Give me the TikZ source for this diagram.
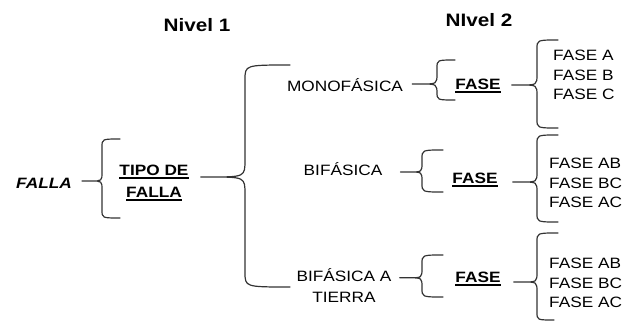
\documentclass[tikz,border=0pt]{standalone}
\usepackage{fontspec}
\setmainfont{Liberation Sans}[FakeStretch=1.15]
\usetikzlibrary{calc,positioning}

% thick underline for the bold labels
\newcommand{\undl}[1]{\setbox0\hbox{#1}\rlap{\rule[-2.6pt]{\wd0}{1.2pt}}\box0}

% curly brace: start (tail), vertical line x, top end, bottom end
\newcommand{\fbrace}[4]{%
  \draw[brc] let \p1=#1, \p2=#2, \p3=#3, \p4=#4,
    \n1={\x2-\x1-9}, \n2={0.35*\n1+5}, \n3={0.25*(\x3-\x2)+3.5}, \n4={0.25*(\x4-\x2)+3.5} in
    (\p1) -- ({\x1+9},\y1) .. controls (\x2,\y1) .. (\x2,{\y1+\n2}) -- (\x2,{\y3-\n3})
      .. controls (\x2,\y3) .. (\p3)
    ({\x1+9},\y1) .. controls (\x2,\y1) .. (\x2,{\y1-\n2}) -- (\x2,{\y4+\n4})
      .. controls (\x2,\y4) .. (\p4);}

\begin{document}
\begin{tikzpicture}[x=1pt, y=1pt,
  brc/.style={draw=black!80, line width=1.2pt, line cap=round},
  lbl/.style={font=\fontsize{15}{19.5}\selectfont, inner sep=0pt, align=left},
  one/.style={lbl, text height=10.7pt, text depth=0pt},
  head/.style={font=\fontsize{18}{22}\selectfont\bfseries, inner sep=0pt},
  key/.style={font=\fontsize{15}{22}\selectfont\bfseries, inner sep=0pt, align=center}]
  \useasboundingbox (0,0) rectangle (627,322);

  % levels
  \node[head] (lvl1) at (197,297) {Nivel 1};
  \node[head] (lvl2) at (479,301.5) {NIvel 2};

  % first level
  \node[one, font=\fontsize{15}{19.5}\selectfont\bfseries\itshape] (falla) at (44,139) {FALLA};
  \node[key] (tipo) at (154,139) {\undl{TIPO DE}\\\undl{FALLA}};

  % second level
  \node[one] (mono) at (345,236) {MONOFÁSICA};
  \node[one] (bif) at (343,152) {BIFÁSICA};
  \node[lbl, align=center, font=\fontsize{15}{21}\selectfont] (bat) at (344,37) {BIFÁSICA A\\TIERRA};

  \node[key] (fase1) at (478,236) {\undl{FASE}};
  \node[key] (fase2) at (475,142) {\undl{FASE}};
  \node[key] (fase3) at (478,43) {\undl{FASE}};

  \node[lbl, anchor=west] (list1) at (553,247) {FASE A\\FASE B\\FASE C};
  \node[lbl, anchor=west] (list2) at (549,139) {FASE AB\\FASE BC\\FASE AC};
  \node[lbl, anchor=west] (list3) at (549,39) {FASE AB\\FASE BC\\FASE AC};

  % brace ends
  \coordinate (t1) at (120,183); \coordinate (b1) at (120,104);
  \coordinate (t2) at (290,257); \coordinate (b2) at (290,35);
  \coordinate (t3) at (455,262); \coordinate (b3) at (455,222);
  \coordinate (t4) at (558,282); \coordinate (b4) at (558,194);
  \coordinate (t5) at (443,172); \coordinate (b5) at (443,130);
  \coordinate (t6) at (558,187); \coordinate (b6) at (558,100);
  \coordinate (t7) at (443,67);  \coordinate (b7) at (443,25);
  \coordinate (t8) at (558,89);  \coordinate (b8) at (554,2);

  % braces
  \fbrace{($(falla.east)+(10,2)$)}{(102,0)}{(t1)}{(b1)}
  \fbrace{($(tipo.east)+(12,6)$)}{(245,0)}{(t2)}{(b2)}
  \fbrace{($(mono.east)+(9,2)$)}{(437,0)}{(t3)}{(b3)}
  \fbrace{($(fase1.east)+(11,1)$)}{(537,0)}{(t4)}{(b4)}
  \fbrace{($(bif.east)+(18,-2)$)}{(422,0)}{(t5)}{(b5)}
  \fbrace{($(fase2.east)+(15,-2)$)}{(537,0)}{(t6)}{(b6)}
  \fbrace{($(bat.north east)+(8,-10)$)}{(422,0)}{(t7)}{(b7)}
  \fbrace{($(fase3.east)+(13,-3)$)}{(537,0)}{(t8)}{(b8)}
\end{tikzpicture}
\end{document}
